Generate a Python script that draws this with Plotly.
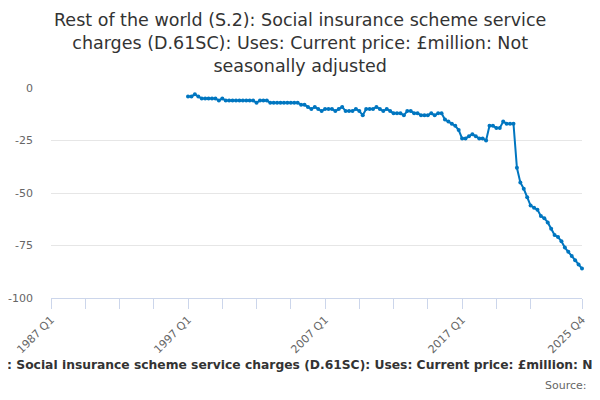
import plotly.graph_objects as go

# quarterly category labels, 1987 Q1 .. 2025 Q4
quarters = [f"{y} Q{q}" for y in range(1987, 2026) for q in range(1, 5)]

# series starts at 1997 Q1
start = "1997 Q1"
values = [
    -4, -4, -3, -4, -5, -5, -5, -5, -5, -6, -5, -6, -6, -6, -6, -6,
    -6, -6, -6, -6, -7, -6, -6, -6, -7, -7, -7, -7, -7, -7, -7, -7,
    -7, -8, -8, -9, -10, -9, -10, -11, -10, -10, -10, -11, -10, -9, -11, -11,
    -11, -10, -11, -13, -10, -10, -10, -9, -10, -11, -10, -11, -12, -12, -12, -13,
    -11, -11, -12, -12, -13, -13, -13, -12, -13, -12, -12, -15, -16, -17, -18, -20,
    -24, -24, -23, -22, -23, -24, -24, -25, -18, -18, -19, -19, -16, -17, -17, -17,
    -38, -45, -48, -52, -56, -57, -58, -61, -62, -64, -67, -70, -71, -73, -76, -78,
    -80, -82, -84, -86,
]

tick_quarters = [quarters[i] for i in range(0, 150, 10)] + ["2025 Q4"]
tick_labels = ["1987 Q1", "1997 Q1", "2007 Q1", "2017 Q1", "2025 Q4"]

y_ticks = [0, -25, -50, -75, -100]
y_tick_text = ["0", "-25", "-50", "-75", "-100"]

title = ("Rest of the world (S.2): Social insurance scheme service<br>"
         "charges (D.61SC): Uses: Current price: £million: Not<br>"
         "seasonally adjusted")
caption = ("Rest of the world (S.2): Social insurance scheme service charges "
           "(D.61SC): Uses: Current price: £million: Not seasonally adjusted")

i0 = quarters.index(start)

# the page body adds an 8px margin, so the figure is 8px smaller
W, H = 592, 392
L, R, T, B = 43, 18, 80, 102
pw, ph = W - L - R, H - T - B


def px(x):
    return (x - L) / pw


def py(y):
    return (H - B - y) / ph


fig = go.Figure()
fig.add_trace(go.Scatter(
    x=quarters[i0:i0 + len(values)], y=values,
    mode='lines+markers',
    line=dict(width=2, color='#0076c0'),
    marker=dict(size=4, color='#0076c0'),
    cliponaxis=False,
    hoverinfo='skip'))

fig.update_layout(
    width=W, height=H,
    plot_bgcolor='white', paper_bgcolor='white',
    showlegend=False,
    font=dict(family='DejaVu Sans', color='#666666', size=11),
    margin=dict(l=L, r=R, t=T, b=B),
    annotations=[
        dict(text=title, xref='paper', yref='paper',
             x=px(292), y=py(0), xanchor='center', yanchor='top',
             showarrow=False, font=dict(size=17.5, color='#333333')),
        dict(text='<b>' + caption + '</b>', xref='paper', yref='paper',
             x=px(291), y=py(357), xanchor='center', yanchor='middle',
             showarrow=False, font=dict(size=12.3, color='#333333')),
        dict(text='Source:', xref='paper', yref='paper',
             x=px(581), y=py(377), xanchor='right', yanchor='middle',
             showarrow=False, font=dict(size=11, color='#666666')),
    ])

fig.update_xaxes(
    type='category', categoryorder='array', categoryarray=quarters,
    range=[0, len(quarters) - 1], automargin=False,
    tickmode='array', tickvals=tick_quarters,
    ticktext=[q if q in tick_labels else '' for q in tick_quarters],
    tickangle=-45, ticks='outside', ticklen=10, tickcolor='#ccd6eb',
    showline=True, linecolor='#ccd6eb', linewidth=1,
    showgrid=False, zeroline=False)

fig.update_yaxes(
    range=[-100, 0], tickmode='array', tickvals=y_ticks, ticktext=y_tick_text,
    automargin=False, showgrid=True, gridcolor='#e6e6e6', zeroline=False,
    ticklabelstandoff=17)

fig.write_html("out.html")
